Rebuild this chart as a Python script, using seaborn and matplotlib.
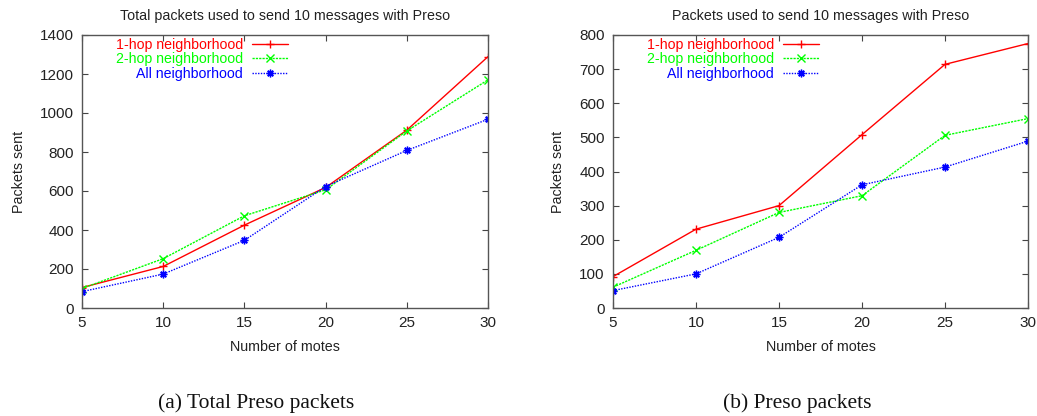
import numpy as np
import pandas as pd
import matplotlib
matplotlib.use("Agg")
import matplotlib.pyplot as plt
import seaborn as sns

# Number of motes in the network
motes = [5, 10, 15, 20, 25, 30]

# Total packets used to send 10 messages with Preso
total_1hop = [105, 213, 425, 618, 912, 1289]
total_2hop = [100, 253, 473, 606, 908, 1170]
total_all = [84, 174, 347, 623, 808, 968]

# Preso packets used to send 10 messages
preso_1hop = [92, 231, 300, 508, 714, 775]
preso_2hop = [61, 169, 280, 329, 506, 555]
preso_all = [51, 100, 207, 361, 413, 489]

series_names = ["1-hop neighborhood", "2-hop neighborhood", "All neighborhood"]
titles = ["Total packets used to send 10 messages with Preso",
          "Packets used to send 10 messages with Preso"]
captions = ["(a) Total Preso packets", "(b) Preso packets"]
y_limits = [(0, 1400), (0, 800)]
y_steps = [200, 100]


def long_frame(a, b, c):
    rows = []
    for name, vals in zip(series_names, (a, b, c)):
        for m, v in zip(motes, vals):
            rows.append({"motes": m, "packets": v, "series": name})
    return pd.DataFrame(rows)


frames = [long_frame(total_1hop, total_2hop, total_all),
          long_frame(preso_1hop, preso_2hop, preso_all)]

sns.set_theme(style="ticks")
plt.rcParams["font.family"] = ["Liberation Sans", "DejaVu Sans"]

palette = {series_names[0]: "#ff0000", series_names[1]: "#00ff00", series_names[2]: "#0000ff"}
dashes = {series_names[0]: "", series_names[1]: (1.6, 0.8), series_names[2]: (1, 1)}
markers = {series_names[0]: "+", series_names[1]: "x", series_names[2]: (8, 2, 0)}

fig = plt.figure(figsize=(10.37, 4.16), dpi=100)
axes_rects = [[82 / 1037, 108 / 416, 406 / 1037, 273 / 416],
              [613 / 1037, 108 / 416, 415 / 1037, 273 / 416]]
legend_anchor_x = [0.507, 0.496]
caption_x = [256 / 1037, 797 / 1037]
text_color = "#222222"

for i in range(2):
    ax = fig.add_axes(axes_rects[i])
    sns.lineplot(data=frames[i], x="motes", y="packets", hue="series", style="series",
                 palette=palette, dashes=dashes, markers=markers, markersize=5.5,
                 linewidth=1.0, markeredgewidth=1.0, legend=False, ax=ax)
    for ln in ax.lines:
        ln.set_markeredgecolor(ln.get_color())
    ax.set_xlim(5, 30)
    ax.set_ylim(*y_limits[i])
    ax.set_xticks(motes)
    ax.set_yticks(np.arange(y_limits[i][0], y_limits[i][1] + 1, y_steps[i]))
    ax.tick_params(direction="in", top=True, right=True, length=4.5, width=0.8,
                   color="#444444", labelsize=11, labelcolor=text_color)
    ax.tick_params(axis="y", pad=6)
    ax.tick_params(axis="x", pad=6)
    for sp in ax.spines.values():
        sp.set_color("#555555")
        sp.set_linewidth(1.0)
    ax.set_title(titles[i], fontsize=10.3, color=text_color, pad=11)
    ax.set_xlabel("Number of motes", fontsize=10.3, color=text_color, labelpad=7)
    ax.set_ylabel("Packets sent", fontsize=10.3, color=text_color, labelpad=10)

    leg = ax.legend(ax.lines[:3], series_names, loc="upper right",
                    bbox_to_anchor=(legend_anchor_x[i], 0.99), frameon=False,
                    markerfirst=False, fontsize=10.2, handlelength=2.5,
                    handletextpad=0.65, labelspacing=0.03, borderpad=0, borderaxespad=0)
    for col in leg._legend_handle_box.get_children():
        col.align = "right"
    for txt, name in zip(leg.get_texts(), series_names):
        txt.set_color(palette[name])

    fig.text(caption_x[i], 1 - 408 / 416, captions[i], ha="center", va="baseline",
             fontsize=15.5, color="#111111", family=["Liberation Serif", "DejaVu Serif"])

fig.savefig("out.png", dpi=100)
